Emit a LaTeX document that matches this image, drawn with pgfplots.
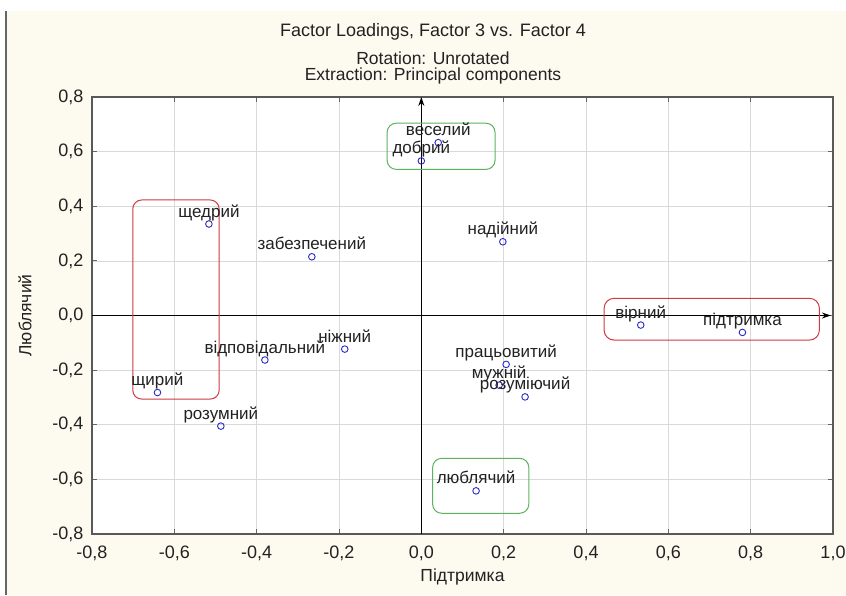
\documentclass[border=0pt]{standalone}
\usepackage{fontspec}
\setmainfont{Liberation Sans}
\usepackage{pgfplots}
\usepackage{pgfplotstable}
\pgfplotsset{compat=1.18}
\usetikzlibrary{arrows.meta}
\definecolor{cream}{HTML}{FDFAEF}
\definecolor{ptblue}{HTML}{2B2BC8}
\definecolor{boxred}{HTML}{D03A44}
\definecolor{boxgreen}{HTML}{5DB35D}
\definecolor{txt}{HTML}{222222}

\pgfplotstableread{
x y label
-0.516 0.335 щедрий
-0.266 0.215 забезпечений
-0.186 -0.123 ніжний
-0.380 -0.163 відповідальний
-0.641 -0.282 щирий
-0.487 -0.405 розумний
0.041 0.633 веселий
0.000 0.566 добрий
0.198 0.270 надійний
0.206 -0.179 працьовитий
0.189 -0.255 мужній
0.252 -0.298 розуміючий
0.133 -0.642 люблячий
0.533 -0.035 вірний
0.780 -0.062 підтримка
}\datatable

\begin{document}
\begin{tikzpicture}
\useasboundingbox (0pt,0pt) rectangle (846pt,-595pt);
\fill[white] (0pt,0pt) rectangle (846pt,-595pt);
\fill[cream] (6pt,-11pt) rectangle (846pt,-595pt);
\draw[black!60, line width=1.2pt] (6pt,-11pt) -- (6pt,-595pt);
\node[font=\fontsize{18}{21}\selectfont, text=txt] at (433pt,-32pt) {Factor Loadings, Factor 3 vs. Factor 4};
\node[font=\fontsize{17.5}{20}\selectfont, text=txt] at (433pt,-58pt) {Rotation: Unrotated};
\node[font=\fontsize{17.5}{20}\selectfont, text=txt] at (433pt,-76pt) {Extraction: Principal components};
\begin{axis}[
  at={(92pt,-534pt)}, anchor=south west,
  scale only axis, width=741pt, height=437pt,
  xmin=-0.8, xmax=1.0, ymin=-0.8, ymax=0.8,
  xtick={-0.8,-0.6,-0.4,-0.2,0,0.2,0.4,0.6,0.8,1.0},
  ytick={-0.8,-0.6,-0.4,-0.2,0,0.2,0.4,0.6,0.8},
  axis background/.style={fill=white},
  grid=major,
  grid style={black!15, line width=0.6pt},
  tick align=inside,
  major tick length=5pt,
  tick style={black!60, line width=0.8pt},
  axis line style={black!65, line width=1.3pt},
  /pgf/number format/.cd, fixed, fixed zerofill, precision=1, use comma, assume math mode=true,
  /pgfplots/.cd,
  ticklabel style={font=\fontsize{18}{21}\selectfont, text=txt},
  xticklabel style={yshift=-8pt},
  yticklabel style={xshift=-5pt},
  xlabel={Підтримка},
  ylabel={Люблячий},
  every axis x label/.style={at={(axis description cs:0.5,0)}, anchor=center, yshift=-43pt, font=\fontsize{17.5}{20}\selectfont, text=txt},
  every axis y label/.style={at={([xshift=-67pt]axis description cs:0,0.5)}, anchor=center, rotate=90, font=\fontsize{17.5}{20}\selectfont, text=txt},
  clip=false,
]
\addplot[black, line width=1pt, -{Stealth[length=9pt,width=6pt]}] coordinates {(-0.8,0) (0.995,0)};
\addplot[black, line width=1pt, -{Stealth[length=9pt,width=6pt]}] coordinates {(0,-0.8) (0,0.8)};
\draw[boxred, line width=1pt, rounded corners=9pt] (axis cs:-0.701,0.423) rectangle (axis cs:-0.491,-0.306);
\draw[boxred, line width=1pt, rounded corners=10pt] (axis cs:0.444,0.063) rectangle (axis cs:0.967,-0.090);
\draw[boxgreen, line width=1pt, rounded corners=9pt] (axis cs:-0.083,0.704) rectangle (axis cs:0.179,0.535);
\draw[boxgreen, line width=1pt, rounded corners=9pt] (axis cs:0.0275,-0.523) rectangle (axis cs:0.261,-0.724);
\addplot[only marks, mark=o, mark size=3.3pt, ptblue, mark options={line width=0.9pt},
  point meta=explicit symbolic, nodes near coords,
  every node near coord/.append style={anchor=base, yshift=7pt, inner sep=0pt, font=\fontsize{17}{20}\selectfont, text=txt}]
  table[x=x, y=y, meta=label] {\datatable};
\end{axis}
\end{tikzpicture}
\end{document}
